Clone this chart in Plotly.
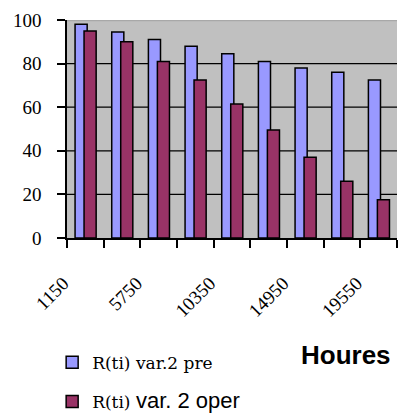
import plotly.graph_objects as go

hours = [1150, 3450, 5750, 8050, 10350, 12650, 14950, 17250, 19550]
labeled_hours = [1150, 5750, 10350, 14950, 19550]
r_pre = [98, 94.5, 91, 88, 84.5, 81, 78, 76, 72.5]
r_oper = [95, 90, 81, 72.5, 61.5, 49.5, 37, 26, 17.5]
y_ticks = [0, 20, 40, 60, 80, 100]

name_pre = "R(ti) var.2 pre"
name_oper = "R(ti) <span style='font-family:Liberation Sans, Arial;font-size:22px'>var. 2 oper</span>"

step = 2300
half = 0.28  # half thickness of a gridline, in y-axis units (~1.2 px)

fig = go.Figure()
fig.add_trace(go.Bar(
    x=hours, y=r_pre, name=name_pre, legendgroup="a",
    width=0.33 * step, offset=-0.28 * step,
    marker=dict(color="#9999FF", line=dict(color="black", width=1.5)),
))
fig.add_trace(go.Bar(
    x=hours, y=r_oper, name=name_oper, legendgroup="b",
    width=0.33 * step, offset=-0.035 * step,
    marker=dict(color="#993366", line=dict(color="black", width=1.5)),
))

# gridlines as thin filled rectangles beneath the bars
grid_shapes = [dict(type="rect", xref="x domain", x0=0, x1=1, yref="y",
                    y0=v - half, y1=v + half, fillcolor="black",
                    line=dict(width=0), layer="below")
               for v in y_ticks[1:-1]]
top_edge = dict(type="rect", xref="x domain", x0=0, x1=1, yref="y",
                y0=y_ticks[-1] - 2 * half, y1=y_ticks[-1], fillcolor="#A8A8A8",
                line=dict(width=0), layer="below")

fig.update_layout(
    width=398, height=413,
    margin=dict(l=67, r=1, t=20, b=175, autoexpand=False),
    barmode="overlay",
    paper_bgcolor="white",
    plot_bgcolor="#C0C0C0",
    showlegend=True,
    legend=dict(
        x=-0.045, xanchor="left", y=-0.49, yanchor="top",
        font=dict(family="DejaVu Serif", size=17, color="black"),
        bgcolor="rgba(0,0,0,0)", tracegroupgap=14,
        traceorder="grouped",
    ),
    xaxis=dict(
        type="linear", range=[0, 9 * step],
        tickmode="array", tickvals=labeled_hours,
        ticktext=[str(h) for h in labeled_hours],
        ticks="", tickangle=-45,
        tickfont=dict(family="Liberation Serif", size=19, color="black"),
        ticklabelshift=-22, ticklabelstandoff=25,
        showline=True, linecolor="black", linewidth=1.5,
        showgrid=False, zeroline=False,
        minor=dict(tick0=0, dtick=step, ticks="outside", ticklen=8,
                   tickcolor="black", tickwidth=1.5, showgrid=False),
    ),
    yaxis=dict(
        range=[0, 100], tickmode="array", tickvals=y_ticks,
        ticks="outside", ticklen=8, tickcolor="black", tickwidth=1.5,
        tickfont=dict(family="Liberation Serif", size=19, color="black"),
        ticklabelstandoff=12,
        showline=True, linecolor="black", linewidth=1.5,
        showgrid=False, zeroline=False,
    ),
    shapes=grid_shapes + [top_edge],
    annotations=[dict(text="<b>Houres</b>", xref="paper", yref="paper",
                      x=0.845, y=-0.537, xanchor="center", yanchor="middle",
                      showarrow=False,
                      font=dict(family="Liberation Sans", size=26, color="black"))],
)

fig.write_html("out.html")
